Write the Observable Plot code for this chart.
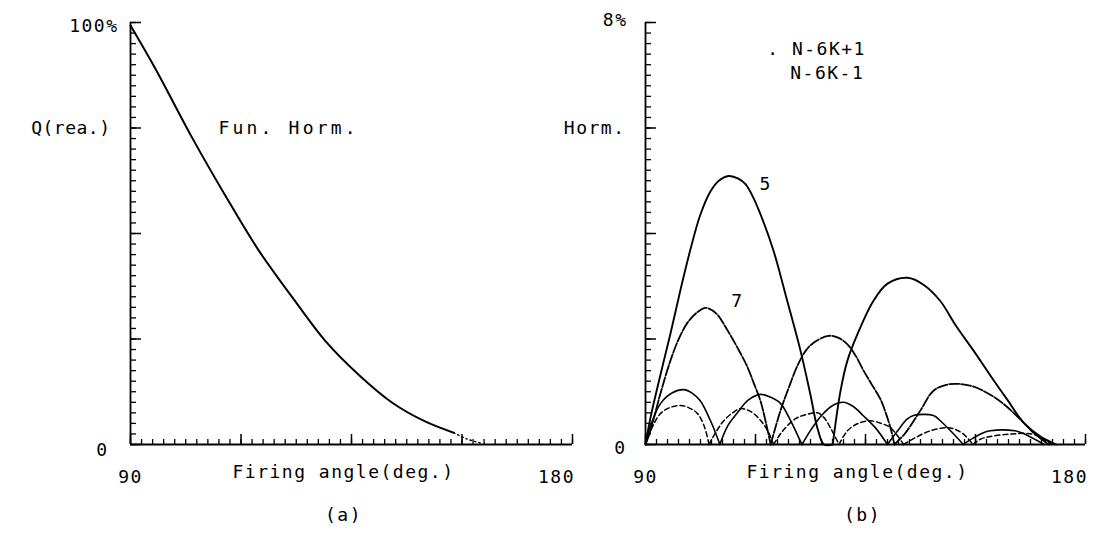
<!DOCTYPE html>
<html>
<head>
<meta charset="utf-8">
<script src="https://cdn.jsdelivr.net/npm/d3@7"></script>
<script src="https://cdn.jsdelivr.net/npm/@observablehq/plot@0.6"></script>
<style>
  html, body { margin: 0; padding: 0; background: #fff; }
  #wrap { position: relative; width: 1107px; height: 547px; overflow: hidden; background: #fff; }
  #wrap svg { position: absolute; top: 0; overflow: visible; background: transparent !important; }
</style>
</head>
<body>
<div id="wrap"></div>
<script>
// ---------- Panel (a): fundamental reactive power Q (%) vs firing angle ----------
const fundDeg = [90, 95.1, 102.6, 109.3, 116.1, 123.0, 129.7, 136.4, 143.3, 150.1, 155.8];
const fundPct = [99.3, 89.0, 72.6, 59.0, 46.0, 34.8, 24.5, 16.6, 9.9, 5.4, 2.8];
const fundTailDeg = [155.8, 158.5, 161.5];
const fundTailPct = [2.8, 1.3, 0.3];

// ---------- Panel (b): harmonic content (%) vs firing angle, [deg, pct] ----------
const harm5 = [
  [90,0],[91,0.5],[93,1.3],[95.1,2.1],[97.2,2.95],[99.2,3.7],[101.2,4.35],[103.3,4.8],[105,5.0],[107,5.09],
  [109,5.04],[110.5,4.93],[112.1,4.67],[114,4.25],[116.2,3.67],[119,2.72],[121.7,1.78],[123.7,0.96],[125.2,0.3],[126.5,0],
  [128.3,0],[129.9,1.02],[131.3,1.59],[133.4,2.1],[136.6,2.72],[139.5,3.05],[143.6,3.16],[147,3.02],[150.3,2.72],
  [153.5,2.25],[157.1,1.78],[160.6,1.3],[164,0.85],[167.3,0.42],[170.8,0.15],[174,0]
];
const harm7 = [
  [90,0],[91,0.26],[93,0.95],[95.1,1.59],[96.8,2.0],[98.6,2.31],[100.5,2.5],[102.3,2.59],[104.5,2.48],[106.8,2.16],
  [108.9,1.82],[110.9,1.46],[112.2,1.15],[113.5,0.83],[115,0.26],[115.6,0],
  [117.6,0.64],[119.4,1.1],[121.1,1.5],[122.8,1.78],[124.4,1.93],[127.4,2.06],[129.5,2.02],[131.3,1.9],[133,1.68],
  [134.6,1.4],[136.4,1.12],[138.1,0.85],[139.5,0.5],[140.3,0.25],[140.9,0],
  [143,0.2],[146.2,0.64],[148.9,1.02],[151.5,1.13],[153.8,1.15],[157,1.1],[160.6,0.94],[163.5,0.75],[166.4,0.5],
  [169.4,0.22],[172.5,0]
];
const harm11 = [
  [90,0],[91.2,0.4],[93.1,0.78],[95.5,0.98],[97.8,1.04],[99.6,0.97],[101.2,0.83],[103.3,0.45],[104.9,0.08],[105.2,0],
  [106.8,0.35],[108.8,0.6],[111,0.84],[113.5,0.95],[115.5,0.9],[117.6,0.78],[119.7,0.45],[121.5,0.1],[122,0],
  [124,0.3],[126,0.55],[128.3,0.74],[130.5,0.8],[132.5,0.72],[134.5,0.55],[137,0.32],[139.5,0],
  [141.5,0.25],[143.5,0.48],[144.8,0.55],[148.9,0.55],[150.3,0.45],[152.5,0.25],[155,0],
  [157,0.12],[159,0.22],[160.5,0.26],[165.5,0.26],[167.5,0.2],[170,0.08],[171.5,0]
];
const harm13 = [
  [90,0],[91.5,0.35],[93.1,0.59],[95,0.7],[97.2,0.74],[98.8,0.7],[100.6,0.59],[102,0.35],[103,0],
  [104.5,0.25],[106,0.45],[107.8,0.6],[109.4,0.68],[111,0.65],[112.1,0.59],[113.6,0.45],[115,0.26],[116.2,0],
  [118,0.25],[120.7,0.49],[123,0.57],[125.2,0.6],[126.6,0.5],[127.8,0.32],[129.6,0],
  [131.3,0.26],[133.5,0.4],[136,0.45],[138.2,0.4],[140.1,0.32],[142.8,0],
  [145,0.12],[148.3,0.26],[151.8,0.32],[153.5,0.28],[155,0.2],[157,0],
  [158.5,0.1],[160.5,0.15],[165,0.2],[169,0.2],[171,0.12],[173,0]
];

// tick values and labels
const xMajorTicks = [90, 112.5, 135, 157.5, 180];
const xMinorStep = 2.25;
const xLabelStart = ["90"];
const xLabelEnd = ["180"];
const leftYMajor = [0, 25, 50, 75, 100];
const leftYMinorStep = 2.5;
const rightYMajor = [0, 2, 4, 6, 8];
const rightYMinorStep = 0.2;
const axisTitle = "Firing angle(deg.)";

const FONT = {fontFamily: "'DejaVu Sans Mono', monospace", fontSize: "18px", letterSpacing: "1.5px", color: "#000", background: "transparent", overflow: "visible"};

function ticksBetween(a, b, step) {
  const n = Math.round((b - a) / step);
  return d3.range(0, n + 1).map(i => a + i * step);
}
function toLobes(points, name) {
  const out = []; let lobe = 0;
  points.forEach(([deg, pct], i) => {
    out.push({deg, pct, lobe: name + "-" + lobe});
    if (pct === 0 && i > 0 && i < points.length - 1 && points[i + 1][1] !== 0) {
      lobe++;
      out.push({deg, pct, lobe: name + "-" + lobe});
    }
  });
  return out;
}
function spaceText(svg, content, spacing) {
  svg.querySelectorAll("text").forEach(t => {
    if (t.textContent === content) t.setAttribute("letter-spacing", spacing);
  });
}

function frameMarks(yMajor, yMinorStep, yMax) {
  const xMinor = ticksBetween(90, 180, xMinorStep);
  const yMinor = ticksBetween(0, yMax, yMinorStep);
  return [
    Plot.ruleX([90], {y1: 0, y2: yMax, stroke: "black", strokeWidth: 1.8}),
    Plot.ruleY([0], {x1: 90, x2: 180, stroke: "black", strokeWidth: 1.8}),
    Plot.axisY(yMinor, {anchor: "left", tickSize: -6, tickFormat: null, label: null, strokeWidth: 1.3, text: null}),
    Plot.axisY(yMajor, {anchor: "left", tickSize: -11, tickFormat: null, label: null, strokeWidth: 1.5, text: null}),
    Plot.axisX(xMinor, {anchor: "bottom", tickSize: -5, tickFormat: null, label: null, strokeWidth: 1.3, text: null}),
    Plot.axisX(xMajorTicks, {anchor: "bottom", tickSize: -10, tickFormat: null, label: null, strokeWidth: 1.5, text: null}),
    Plot.axisX(xLabelStart.map(Number), {anchor: "bottom", tickSize: 0, tickPadding: 26, tickFormat: d => String(d), label: null}),
    Plot.axisX(xLabelEnd.map(Number), {anchor: "bottom", tickSize: 0, tickPadding: 26, dx: -16, tickFormat: d => String(d), label: null}),
    Plot.text([axisTitle], {text: d => d, frameAnchor: "bottom", dy: 33, dx: -8, fill: "black"})
  ];
}

// ---- Panel (a)
const fundData = fundDeg.map((d, i) => ({deg: d, pct: fundPct[i]}));
const fundTail = fundTailDeg.map((d, i) => ({deg: d, pct: fundTailPct[i]}));
const plotA = Plot.plot({
  width: 600, height: 547,
  marginLeft: 130, marginRight: 28, marginTop: 22, marginBottom: 103,
  x: {domain: [90, 180]},
  y: {domain: [0, 100]},
  style: FONT,
  marks: [
    ...frameMarks(leftYMajor, leftYMinorStep, 100),
    Plot.axisY([100], {anchor: "left", tickSize: 0, tickPadding: 12, dy: 4, tickFormat: () => "100%", label: null}),
    Plot.axisY([75], {anchor: "left", tickSize: 0, tickPadding: 20, tickFormat: () => "Q(rea.)", label: null}),
    Plot.axisY([0], {anchor: "left", tickSize: 0, tickPadding: 22, dy: 6, tickFormat: () => "0", label: null}),
    Plot.line(fundData, {x: "deg", y: "pct", curve: "catmull-rom", stroke: "black", strokeWidth: 2}),
    Plot.line(fundTail, {x: "deg", y: "pct", curve: "catmull-rom", stroke: "black", strokeWidth: 1.4, strokeDasharray: "1.5,3"}),
    Plot.text(["Fun. Horm."], {text: d => d, x: 107.9, y: 75, textAnchor: "start", fill: "black"}),
    Plot.text(["(a)"], {text: d => d, frameAnchor: "bottom", dy: 76, dx: -8, fill: "black"})
  ]
});
plotA.style.left = "0px";
spaceText(plotA, "Fun. Horm.", "3.2");
spaceText(plotA, "Q(rea.)", "0.5");

// ---- Panel (b)
const plotB = Plot.plot({
  width: 592, height: 547,
  marginLeft: 130, marginRight: 22, marginTop: 22, marginBottom: 103,
  x: {domain: [90, 180]},
  y: {domain: [0, 8]},
  style: FONT,
  marks: [
    ...frameMarks(rightYMajor, rightYMinorStep, 8),
    Plot.axisY([8], {anchor: "left", tickSize: 0, tickPadding: 18, dy: -2, tickFormat: () => "8%", label: null}),
    Plot.axisY([6], {anchor: "left", tickSize: 0, tickPadding: 20, tickFormat: () => "Horm.", label: null}),
    Plot.axisY([0], {anchor: "left", tickSize: 0, tickPadding: 19, dy: 4, tickFormat: () => "0", label: null}),
    Plot.line(toLobes(harm5, "h5"), {x: "deg", y: "pct", z: "lobe", curve: "catmull-rom", stroke: "black", strokeWidth: 1.9}),
    Plot.line(toLobes(harm7, "h7"), {x: "deg", y: "pct", z: "lobe", curve: "catmull-rom", stroke: "black", strokeWidth: 1.8, strokeDasharray: "10,2"}),
    Plot.line(toLobes(harm11, "h11"), {x: "deg", y: "pct", z: "lobe", curve: "catmull-rom", stroke: "black", strokeWidth: 1.6}),
    Plot.line(toLobes(harm13, "h13"), {x: "deg", y: "pct", z: "lobe", curve: "catmull-rom", stroke: "black", strokeWidth: 1.5, strokeDasharray: "5,3"}),
    Plot.text(["5"], {text: d => d, x: 114.6, y: 4.94, fill: "black"}),
    Plot.text(["7"], {text: d => d, x: 108.8, y: 2.72, fill: "black"}),
    Plot.text([". N-6K+1"], {text: d => d, x: 114.9, y: 7.49, textAnchor: "start", fill: "black"}),
    Plot.text(["N-6K-1"], {text: d => d, x: 119.6, y: 7.04, textAnchor: "start", fill: "black"}),
    Plot.text(["(b)"], {text: d => d, frameAnchor: "bottom", dy: 76, dx: -3, fill: "black"})
  ]
});
plotB.style.left = "515px";

document.getElementById("wrap").append(plotA, plotB);
</script>
</body>
</html>
